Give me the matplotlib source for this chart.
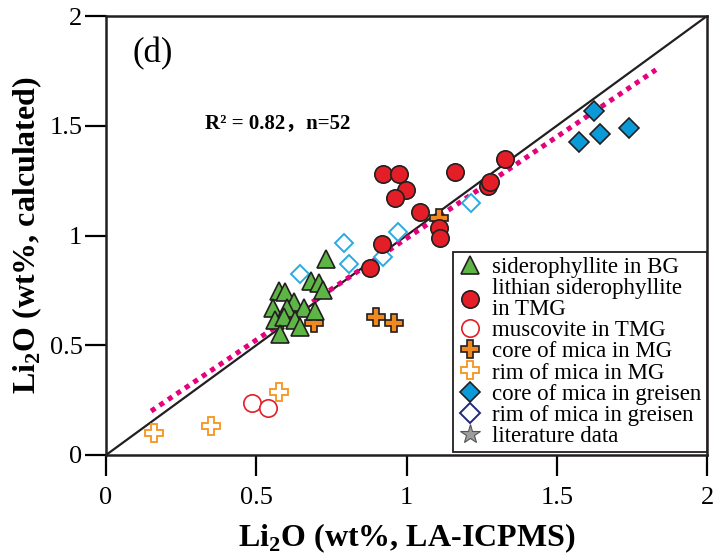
import matplotlib
matplotlib.use("Agg")
import matplotlib.pyplot as plt
from matplotlib.lines import Line2D

plt.rcParams['font.family'] = ['Liberation Serif', 'Noto Sans CJK SC']
plt.rcParams['mathtext.fontset'] = 'custom'
plt.rcParams['mathtext.rm'] = 'Liberation Serif'
plt.rcParams['mathtext.bf'] = 'Liberation Serif:bold'

# Li2O estimates: LA-ICPMS (x) versus calculated (y)
bg_x = [0.732, 0.683, 0.708, 0.721, 0.574, 0.597, 0.624, 0.556, 0.602, 0.660,
        0.694, 0.563, 0.591, 0.630, 0.647, 0.580]
bg_y = [0.892, 0.794, 0.785, 0.752, 0.749, 0.744, 0.698, 0.668, 0.668, 0.668,
        0.657, 0.615, 0.630, 0.615, 0.585, 0.551]

tmg_x = [0.921, 0.974, 0.997, 0.963, 1.160, 1.327, 1.271, 1.278, 1.044, 1.108,
         1.113, 0.919, 0.878]
tmg_y = [1.279, 1.279, 1.207, 1.172, 1.288, 1.347, 1.225, 1.245, 1.108, 1.033,
         0.987, 0.961, 0.853]

musc_x = [0.486, 0.538]
musc_y = [0.235, 0.213]

mg_core_x = [0.693, 0.897, 0.957, 1.108]
mg_core_y = [0.601, 0.629, 0.601, 1.078]

mg_rim_x = [0.158, 0.350, 0.577]
mg_rim_y = [0.099, 0.134, 0.289]

gr_core_x = [1.623, 1.575, 1.645, 1.739]
gr_core_y = [1.565, 1.425, 1.462, 1.488]

gr_rim_x = [1.215, 0.971, 0.791, 0.808, 0.921, 0.644]
gr_rim_y = [1.150, 1.017, 0.964, 0.870, 0.903, 0.825]

fit_x = [0.15, 1.83]
fit_y = [0.20, 1.755]

one_to_one = [0, 2]
ticks = [0, 0.5, 1, 1.5, 2]
tick_labels = ['0', '0.5', '1', '1.5', '2']

fig = plt.figure(figsize=(7.13, 5.58), dpi=100)
ax = fig.add_axes([0.1487, 0.1846, 0.8429, 0.7867])

ax.plot(one_to_one, one_to_one, color='#231f20', lw=1.6, zorder=2)
ax.plot(fit_x, fit_y, color='#e6007e', lw=3.6, linestyle=(0, (1, 1.05)),
        dash_capstyle='butt', zorder=2)

ms = 12.5
ax.plot(gr_rim_x, gr_rim_y, 'D', ms=9.5, mfc='white', mec='#29abe2', mew=1.4,
        ls='none', zorder=3)
ax.plot(musc_x, musc_y, 'o', ms=ms, mfc='white', mec='#e31e26', mew=1.2,
        ls='none', zorder=3)
ax.plot(mg_rim_x, mg_rim_y, 'P', ms=ms, mfc='white', mec='#f7941d', mew=1.3,
        ls='none', zorder=3)
ax.plot(gr_core_x, gr_core_y, 'D', ms=10, mfc='#0b9ad8', mec='#231f20', mew=1.2,
        ls='none', zorder=4)
ax.plot(mg_core_x, mg_core_y, 'P', ms=ms, mfc='#f08a1e', mec='#231f20', mew=1.2,
        ls='none', zorder=4)
ax.plot(bg_x, bg_y, '^', ms=13.5, mfc='#5db546', mec='#231f20', mew=1.2,
        ls='none', zorder=5)
ax.plot(tmg_x, tmg_y, 'o', ms=ms, mfc='#e31e26', mec='#231f20', mew=1.2,
        ls='none', zorder=5)

ax.set_xlim(0, 2)
ax.set_ylim(0, 2)
ax.set_xticks(ticks)
ax.set_xticklabels(tick_labels)
ax.set_yticks(ticks)
ax.set_yticklabels(tick_labels)
ax.tick_params(direction='out', length=15, width=1.6, labelsize=19, pad=2)
ax.tick_params(axis='x', pad=8)
for s in ax.spines.values():
    s.set_linewidth(1.8)
    s.set_color('#231f20')

ax.set_xlabel(r'Li$_\mathbf{2}$O (wt%, LA-ICPMS)', fontsize=23, fontweight='bold',
              labelpad=9)
ax.set_ylabel(r'Li$_\mathbf{2}$O (wt%, calculated)', fontsize=23, fontweight='bold',
              labelpad=4)

ax.text(0.087, 1.83, '(d)', fontsize=25, va='center', ha='left')
ax.text(0.33, 1.51, 'R² = 0.82，n=52', fontsize=15, fontweight='bold',
        va='center', ha='left')

handles = [
    Line2D([], [], marker='^', ls='none', ms=13, mfc='#5db546', mec='#231f20', mew=1.2),
    Line2D([], [], marker='o', ls='none', ms=ms, mfc='#e31e26', mec='#231f20', mew=1.2),
    Line2D([], [], marker='o', ls='none', ms=ms, mfc='white', mec='#e31e26', mew=1.2),
    Line2D([], [], marker='P', ls='none', ms=ms, mfc='#f08a1e', mec='#231f20', mew=1.2),
    Line2D([], [], marker='P', ls='none', ms=ms, mfc='white', mec='#f7941d', mew=1.3),
    Line2D([], [], marker='D', ls='none', ms=10, mfc='#0b9ad8', mec='#231f20', mew=1.2),
    Line2D([], [], marker='D', ls='none', ms=10, mfc='white', mec='#1d2a7a', mew=1.4),
    Line2D([], [], marker='*', ls='none', ms=15, mfc='#9d9d9d', mec='#555555', mew=0.8),
]
labels = ['siderophyllite in BG', 'lithian siderophyllite\nin TMG', 'muscovite in TMG',
          'core of mica in MG', 'rim of mica in MG', 'core of mica in greisen',
          'rim of mica in greisen', 'literature data']
leg = ax.legend(handles, labels, loc='lower right', bbox_to_anchor=(1.0, 0.006),
                borderaxespad=0, fontsize=16.5, frameon=True, fancybox=False,
                edgecolor='#231f20', framealpha=1, handlelength=1.0,
                handletextpad=0.45, labelspacing=0.0, borderpad=0.25)
for t in leg.get_texts():
    t.set_linespacing(1.0)
leg.get_frame().set_linewidth(1.3)
leg.set_zorder(10)

fig.savefig('out.png', dpi=100)
